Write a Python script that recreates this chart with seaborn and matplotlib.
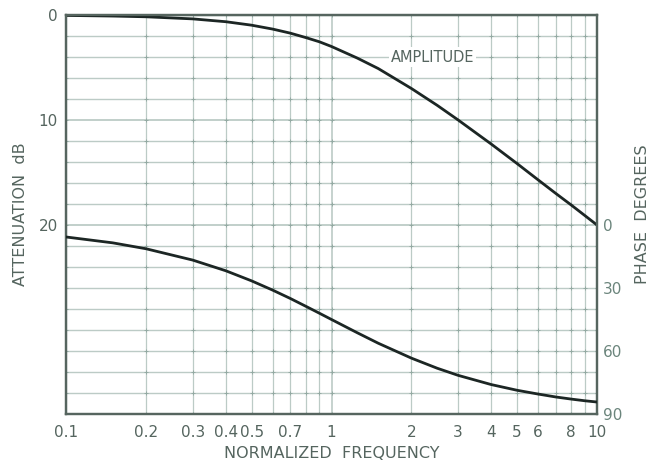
import matplotlib
matplotlib.use("Agg")
import matplotlib.pyplot as plt
import numpy as np
import pandas as pd
import seaborn as sns
from matplotlib.ticker import FixedLocator, NullFormatter, NullLocator

sns.set_style("white")
plt.rcParams["font.family"] = ["DejaVu Sans"]

# Values
FREQ = [0.1, 0.15, 0.2, 0.3, 0.4, 0.5, 0.6, 0.7, 0.8, 0.9, 1.0, 1.25, 1.5,
        2.0, 2.5, 3.0, 4.0, 5.0, 6.0, 7.0, 8.0, 9.0, 10.0]
AMPLITUDE_DB = [0.04, 0.1, 0.17, 0.37, 0.64, 0.97, 1.34, 1.73, 2.15, 2.55, 3.0,
                4.1, 5.1, 7.0, 8.6, 10.0, 12.3, 14.15, 15.7, 17.0, 18.1, 19.1, 20.0]
PHASE_DEG = [5.7, 8.5, 11.3, 16.7, 21.8, 26.6, 31.0, 35.0, 38.7, 42.0, 45.0,
             51.3, 56.3, 63.4, 68.2, 71.6, 76.0, 78.7, 80.5, 81.9, 82.9, 83.7, 84.3]

X_TICKS = [0.1, 0.2, 0.3, 0.4, 0.5, 0.7, 1, 2, 3, 4, 5, 6, 8, 10]
X_TICK_LABELS = ["0.1", "0.2", "0.3", "0.4", "0.5", "0.7", "1", "2", "3", "4",
                 "5", "6", "8", "10"]
X_GRID = [0.1, 0.2, 0.3, 0.4, 0.5, 0.6, 0.7, 0.8, 0.9, 1, 2, 3, 4, 5, 6, 7, 8, 9, 10]
DB_TICKS = [0, 10, 20]
DB_GRID = list(range(0, 39, 2))
PHASE_TICKS = [0, 30, 60, 90]

GRID = "#bccbc6"
TEXT = "#55655f"
CURVE = "#1c2624"
EDGE = "#56655f"

data = pd.DataFrame({"Frequency": FREQ, "Amplitude": AMPLITUDE_DB, "Phase": PHASE_DEG})

fig = plt.figure(figsize=(6.55, 4.67), dpi=100)
ax = fig.add_axes([66 / 655, 1 - 414 / 467, 531 / 655, 399 / 467])
ax2 = ax.twinx()

ax.set_xscale("log")
ax.set_xlim(0.1, 10)
ax.set_ylim(38, 0)
ax2.set_ylim(90, -100)

for x in X_GRID:
    ax.axvline(x, color=GRID, lw=1.2 if x == 1 else 0.9, zorder=0)
for y in DB_GRID:
    ax.axhline(y, color=GRID, lw=1.3 if y in (10, 20) else 1.0, zorder=0)
gx, gy = np.meshgrid(X_GRID, DB_GRID)
ax.scatter(gx.ravel(), gy.ravel(), marker="+", s=10, color="#94aaa3", lw=0.7, zorder=0.5)

sns.lineplot(data=data, x="Frequency", y="Amplitude", ax=ax, color=CURVE, lw=2, zorder=3)
sns.lineplot(data=data, x="Frequency", y="Phase", ax=ax2, color=CURVE, lw=2, zorder=3)

ax.text(2.4, 4, "AMPLITUDE", ha="center", va="center", fontsize=10.5, color=TEXT,
        bbox=dict(facecolor="white", edgecolor="none", pad=1.5), zorder=4)

ax.xaxis.set_major_locator(FixedLocator(X_TICKS))
ax.xaxis.set_minor_locator(NullLocator())
ax.xaxis.set_minor_formatter(NullFormatter())
ax.set_xticklabels(X_TICK_LABELS)
ax.set_yticks(DB_TICKS)
ax2.set_yticks(PHASE_TICKS)

ax.tick_params(length=0, labelsize=11, labelcolor=TEXT, pad=8)
ax.tick_params(axis="y", pad=6)
ax2.tick_params(length=0, labelsize=11, labelcolor="#6b857c", pad=4)

ax.set_xlabel("NORMALIZED  FREQUENCY", fontsize=11.5, color=TEXT, labelpad=4)
ax.set_ylabel("ATTENUATION  dB", fontsize=11.5, color=TEXT)
ax2.set_ylabel("PHASE  DEGREES", fontsize=11.5, color=TEXT, rotation=90)
ax.yaxis.set_label_coords(-0.072, 0.5)
ax2.yaxis.set_label_coords(1.072, 0.5)

for a in (ax, ax2):
    for side in a.spines.values():
        side.set_color(EDGE)
        side.set_linewidth(1.6)

fig.savefig("out.png", dpi=100)
